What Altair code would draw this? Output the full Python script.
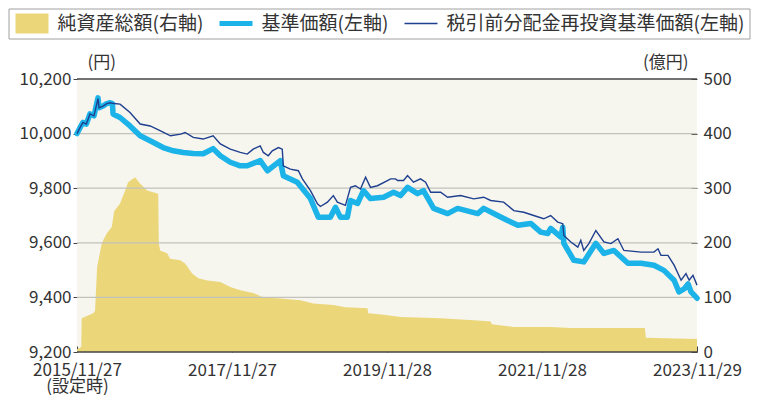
import altair as alt
import pandas as pd

FONT = "Noto Sans CJK JP"

# ---- legend / series ----
series_names = ["純資産総額(右軸)", "基準価額(左軸)", "税引前分配金再投資基準価額(左軸)"]
series_colors = ["#ebd77a", "#1bb3e8", "#1f3f8f"]
legend_shapes = [
    "M-0.8,-1H2.5V1H-0.8Z",
    "M-0.8,-0.26H2.5V0.26H-0.8Z",
    "M-0.8,-0.07H2.5V0.07H-0.8Z",
]

# ---- 基準価額 (left axis, yen) ----
nav_dates = ["2015-11-27","2015-12-10","2015-12-25","2016-01-10","2016-01-27","2016-02-15","2016-03-05","2016-03-10",
             "2016-03-29","2016-04-15","2016-05-01","2016-05-12","2016-05-15","2016-06-17","2016-08-03","2016-09-20",
             "2016-11-06","2017-01-06","2017-02-23","2017-04-11","2017-05-28","2017-07-14","2017-08-30","2017-10-03",
             "2017-11-19","2018-01-05","2018-02-07","2018-04-09","2018-05-13","2018-07-13","2018-07-27","2018-10-01",
             "2018-12-02","2019-01-08","2019-03-06","2019-03-30","2019-04-22","2019-05-25","2019-06-09","2019-07-12",
             "2019-08-09","2019-09-11","2019-11-12","2019-12-29","2020-01-31","2020-03-04","2020-04-20","2020-05-18",
             "2020-07-05","2020-09-09","2020-10-26","2021-01-29","2021-02-26","2021-05-03","2021-06-19","2021-08-06",
             "2021-10-06","2021-11-22","2021-12-25","2022-01-08","2022-02-25","2022-03-06","2022-03-11","2022-04-27",
             "2022-06-13","2022-08-09","2022-09-16","2022-11-02","2023-01-07","2023-03-10","2023-05-10","2023-06-26",
             "2023-08-13","2023-09-05","2023-09-29","2023-10-18","2023-11-01","2023-11-29"]
nav_values = [10000,10020,10041,10035,10072,10065,10131,10095,10101,10110,10113,10110,10072,10059,10028,9992,
              9974,9949,9937,9931,9927,9926,9945,9919,9895,9882,9882,9901,9864,9901,9846,9822,
              9762,9694,9694,9730,9694,9694,9755,9744,9791,9762,9767,9785,9773,9803,9780,9791,
              9726,9707,9726,9707,9726,9700,9682,9664,9671,9639,9634,9653,9621,9657,9598,9536,
              9530,9598,9561,9572,9525,9525,9518,9499,9463,9420,9431,9449,9420,9397]

# ---- 税引前分配金再投資基準価額 (left axis, yen) ----
reinv_dates = ["2015-11-27","2015-12-10","2015-12-25","2016-01-10","2016-01-27","2016-02-15","2016-03-05","2016-03-10",
               "2016-03-29","2016-04-15","2016-05-01","2016-05-20","2016-06-17","2016-08-03","2016-09-20","2016-11-06",
               "2016-12-25","2017-02-10","2017-03-30","2017-04-20","2017-05-28","2017-07-14","2017-08-30","2017-10-03",
               "2017-11-19","2018-01-05","2018-02-07","2018-03-07","2018-04-09","2018-04-24","2018-05-17","2018-06-05",
               "2018-07-04","2018-07-22","2018-07-27","2018-08-29","2018-10-06","2018-10-25","2018-12-02","2019-01-04",
               "2019-01-18","2019-02-20","2019-03-20","2019-04-08","2019-05-16","2019-06-09","2019-07-02","2019-07-26",
               "2019-08-19","2019-09-11","2019-10-14","2019-11-30","2019-12-15","2020-01-07","2020-01-17","2020-02-14",
               "2020-03-04","2020-04-01","2020-05-04","2020-05-28","2020-06-21","2020-08-07","2020-09-09","2020-11-09",
               "2021-01-10","2021-02-26","2021-03-31","2021-05-31","2021-07-18","2021-09-03","2021-10-20","2021-12-06",
               "2022-01-08","2022-02-10","2022-03-06","2022-03-11","2022-04-13","2022-05-16","2022-05-30","2022-06-13",
               "2022-07-07","2022-08-09","2022-09-16","2022-10-19","2022-11-21","2022-12-19","2023-03-10","2023-05-10",
               "2023-05-29","2023-06-12","2023-07-15","2023-08-13","2023-09-15","2023-10-08","2023-10-23","2023-11-10",
               "2023-11-29"]
reinv_values = [10000,10020,10041,10035,10072,10065,10128,10095,10101,10110,10113,10110,10108,10077,10035,10028,
                10010,9992,9998,10004,9986,9980,9992,9962,9943,9931,9925,9943,9955,9931,9919,9937,
                9949,9943,9882,9870,9864,9834,9791,9743,9733,9749,9773,9749,9737,9803,9809,9797,
                9840,9803,9809,9828,9834,9834,9828,9828,9846,9822,9834,9822,9785,9785,9767,9773,
                9761,9767,9755,9749,9718,9712,9700,9688,9700,9676,9670,9627,9603,9584,9609,9572,
                9597,9645,9603,9597,9615,9572,9566,9566,9578,9554,9554,9518,9463,9487,9463,9481,
                9445]

# ---- 純資産総額 (right axis, 億円) ----
assets_dates = ["2015-11-27","2015-12-17","2015-12-19","2016-01-18","2016-02-11","2016-02-20","2016-03-01","2016-03-23",
                "2016-04-15","2016-05-09","2016-05-20","2016-06-17","2016-07-11","2016-07-25","2016-08-27","2016-09-20",
                "2016-10-23","2016-12-14","2016-12-17","2016-12-23","2017-01-25","2017-02-08","2017-03-28","2017-04-20",
                "2017-05-23","2017-06-21","2017-08-02","2017-10-03","2017-11-19","2018-01-05","2018-03-07","2018-04-24",
                "2018-07-13","2018-10-15","2018-12-16","2019-03-20","2019-05-16","2019-08-28","2019-09-01","2019-11-12",
                "2020-01-31","2020-08-07","2021-01-10","2021-03-31","2021-04-05","2021-07-18","2022-01-08","2022-04-13",
                "2023-03-28","2023-04-02","2023-11-29"]
assets_values = [5,9,62,67,71,75,156,199,217,229,258,272,296,311,320,308,
                 296,290,199,186,181,171,168,162,144,135,131,128,119,113,108,100,
                 98,95,89,86,82,80,71,68,64,62,58,56,51,46,46,44,
                 44,26,24]

# ---- axes ----
y_left_ticks = [9200, 9400, 9600, 9800, 10000, 10200]
y_right_ticks = [0, 100, 200, 300, 400, 500]
x_tick_dates = ["2015-11-27", "2017-11-27", "2019-11-28", "2021-11-28", "2023-11-29"]
x_domain = ["2015-11-27", "2023-11-29"]


def dt(s):
    y, m, d = (int(p) for p in s.split("-"))
    return alt.DateTime(year=y, month=m, date=d, utc=True)


nav_df = pd.DataFrame({"date": nav_dates, "v": nav_values})
reinv_df = pd.DataFrame({"date": reinv_dates, "v": reinv_values})
assets_df = pd.DataFrame({"date": assets_dates, "v": assets_values})
grid_df = pd.DataFrame({"g": y_left_ticks})
legend_df = pd.DataFrame({"s": series_names})

x_enc = alt.X(
    "date:T",
    scale=alt.Scale(type="utc", domain=[dt(s) for s in x_domain], nice=False),
    axis=alt.Axis(
        values=[dt(s) for s in x_tick_dates],
        labelExpr="utcFormat(datum.value, '%Y') == '2015' ? ['2015/11/27', '(設定時)'] : utcFormat(datum.value, '%Y/%m/%d')",
        tickSize=6, offset=-6, domain=False, grid=False, labelPadding=10,
        labelLineHeight=16, labelOverlap=False, labelFlush=False, title=None,
    ),
)

left_scale = alt.Scale(domain=[9200, 10200], nice=False, zero=False)
right_scale = alt.Scale(domain=[0, 500], nice=False)

area = alt.Chart(assets_df).mark_area(color=series_colors[0]).encode(
    x=x_enc,
    y=alt.Y("v:Q", scale=right_scale, axis=alt.Axis(
        orient="right", values=y_right_ticks, tickSize=6, offset=-6, domain=False, grid=False,
        labelPadding=6, title="(億円)", titleAngle=0, titleX=-3, titleY=-17,
        titleAlign="right", titleBaseline="middle")),
)

grid = alt.Chart(grid_df).mark_rule().encode(
    y=alt.Y("g:Q", scale=left_scale, axis=None),
    color=alt.condition("datum.g == 9200 || datum.g == 10200", alt.value("#444444"), alt.value("#c2c2bd")),
    strokeWidth=alt.condition("datum.g == 9200 || datum.g == 10200", alt.value(1.3), alt.value(1.2)),
)

nav_line = alt.Chart(nav_df).mark_line(color=series_colors[1], strokeWidth=5.5, strokeJoin="round", strokeCap="round").encode(
    x=x_enc,
    y=alt.Y("v:Q", scale=left_scale, axis=alt.Axis(
        orient="left", values=y_left_ticks, format=",d", tickSize=4, domain=False, grid=False,
        labelPadding=2, title="(円)", titleAngle=0, titleX=10, titleY=-17,
        titleAlign="left", titleBaseline="middle")),
)

reinv_line = alt.Chart(reinv_df).mark_line(color=series_colors[2], strokeWidth=1.4).encode(
    x=x_enc,
    y=alt.Y("v:Q", scale=left_scale, axis=None),
)

leg = alt.Legend(
    title=None, orient="none", legendX=-68.5, legendY=-70.5, direction="horizontal",
    strokeColor="#a0a0a0", fillColor="white", padding=5, symbolSize=400, symbolStrokeWidth=0,
    symbolOpacity=1, labelFontSize=19, labelFont=FONT, labelColor="#333333", labelOffset=24,
    columnPadding=14, labelLimit=600,
)

legend_layer = alt.Chart(legend_df).mark_point(filled=True, opacity=0).encode(
    x=alt.value(0), y=alt.value(0),
    fill=alt.Fill("s:N", scale=alt.Scale(domain=series_names, range=series_colors), legend=leg),
    shape=alt.Shape("s:N", scale=alt.Scale(domain=series_names, range=legend_shapes), legend=leg),
)

chart = alt.layer(area, grid, nav_line, reinv_line, legend_layer).resolve_scale(
    y="independent"
).properties(
    width=620, height=273,
    autosize=alt.AutoSizeParams(type="none"),
    padding={"left": 69, "top": 71, "right": 54, "bottom": 43},
).configure_view(
    fill="#f6f5ee", stroke=None
).configure_axis(
    labelFont=FONT, titleFont=FONT, labelFontSize=17, titleFontSize=17, titleFontWeight="normal",
    labelColor="#333333", titleColor="#333333", tickColor="#444444",
)

chart.save("out.html", embed_options={"renderer": "svg", "actions": False})
